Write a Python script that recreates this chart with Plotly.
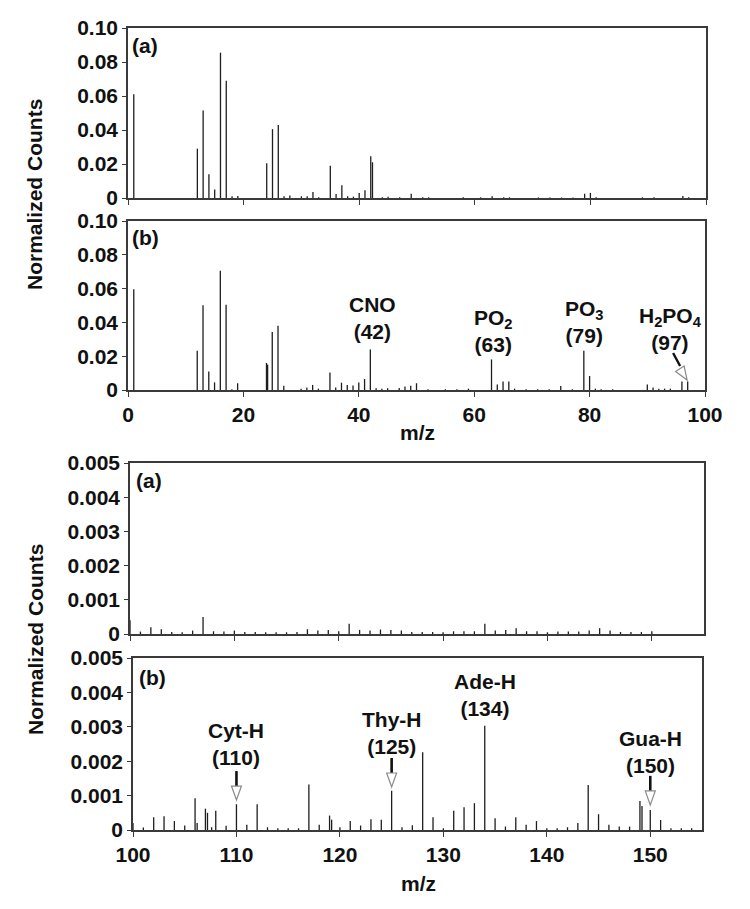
import plotly.graph_objects as go

# page body has an 8px margin: figure is sized/offset so it lands on the 750x909 window
OFF = 8
W, H = 750 - OFF, 909 - OFF

# ---------------- data ----------------
# Low-mass region (m/z 0-100)
low_a_mz = [1, 12, 13, 14, 15, 16, 17, 18, 19, 24, 25, 26, 27, 28, 30, 31, 32, 33, 35, 36,
            37, 38, 39, 40, 41, 42, 42.3, 44, 45, 47, 49, 51, 52, 58, 61, 63, 65, 66, 71, 73,
            75, 77, 79, 80, 81, 89, 91, 96, 97]
low_a_val = [0.061, 0.029, 0.0515, 0.014, 0.005, 0.0855, 0.069, 0.001, 0.0012, 0.0205, 0.0405,
             0.043, 0.001, 0.0015, 0.001, 0.001, 0.0035, 0.0005, 0.019, 0.0023, 0.0075, 0.001,
             0.0008, 0.003, 0.0045, 0.0245, 0.021, 0.0005, 0.0008, 0.0004, 0.0025, 0.0005,
             0.0004, 0.0004, 0.0004, 0.001, 0.0005, 0.0004, 0.0003, 0.0003, 0.0003, 0.0003,
             0.0025, 0.003, 0.0005, 0.0004, 0.0005, 0.0012, 0.0005]

low_b_mz = [1, 12, 13, 14, 15, 16, 17, 18, 19, 24, 24.2, 25, 26, 27, 30, 31, 32, 33, 35, 36,
            37, 38, 39, 40, 41, 42, 43, 44, 45, 47, 48, 49, 50, 52, 55, 57, 59, 63, 64, 65,
            66, 67, 69, 71, 73, 75, 77, 79, 80, 81, 82, 84, 90, 91, 92, 93, 94, 96, 97]
low_b_val = [0.0596, 0.0232, 0.0502, 0.011, 0.0045, 0.0705, 0.0504, 0.0005, 0.004, 0.016,
             0.015, 0.0343, 0.038, 0.0025, 0.0008, 0.0015, 0.003, 0.0008, 0.0104, 0.0015,
             0.0043, 0.003, 0.0027, 0.0045, 0.0065, 0.024, 0.001, 0.0008, 0.001, 0.0012,
             0.002, 0.0025, 0.004, 0.0005, 0.0005, 0.0005, 0.0008, 0.0181, 0.0033, 0.005,
             0.005, 0.0008, 0.0005, 0.0005, 0.0005, 0.0024, 0.0005, 0.0232, 0.0083, 0.0008,
             0.0005, 0.0004, 0.0033, 0.0015, 0.0008, 0.0008, 0.0008, 0.005, 0.005]

# High-mass region (m/z 100-155)
high_a_mz = [100, 101, 102, 103, 104, 105, 106, 107, 108, 109, 110, 111, 112, 113, 114, 115,
             116, 117, 118, 119, 120, 121, 122, 123, 124, 125, 126, 127, 128, 129, 130, 131,
             132, 133, 134, 135, 136, 137, 138, 139, 140, 141, 142, 143, 144, 145, 146, 147,
             148, 149, 150]
high_a_val = [0.0004, 0.00007, 0.0002, 0.00014, 0.00006, 0.00005, 0.0001, 0.0005, 0.00008,
              0.00007, 0.0001, 0.00006, 0.00006, 0.00005, 0.00005, 0.00005, 0.00006, 0.00014,
              0.0001, 0.00012, 0.00008, 0.0003, 0.00012, 0.0001, 0.00013, 0.00012, 0.0001,
              0.00006, 0.00006, 0.00006, 0.00005, 0.00008, 0.00008, 0.00008, 0.0003, 0.0001,
              0.00012, 0.00017, 0.00008, 0.00008, 0.00005, 0.00007, 0.00007, 0.00007, 0.0001,
              0.00017, 0.0001, 0.00006, 0.00006, 0.00006, 0.00008]

high_b_mz = [100, 101, 102, 103, 104, 105, 106, 106.2, 107, 107.2, 107.6, 108, 109, 110, 111,
             112, 113, 114, 115, 116, 117, 118, 119, 119.2, 120, 121, 122, 123, 124, 125, 126,
             127, 128, 129, 130, 131, 132, 133, 134, 135, 136, 137, 138, 139, 140, 141, 142,
             143, 144, 145, 146, 147, 148, 149, 149.2, 150, 151, 152, 153, 154]
high_b_val = [0.0002, 0.00007, 0.00037, 0.0004, 0.00026, 0.00013, 0.00092, 0.0002, 0.00062,
              0.0005, 0.00008, 0.00056, 0.00012, 0.00075, 0.00015, 0.00075, 0.00008, 0.00005,
              0.00005, 0.00005, 0.00132, 0.00015, 0.00042, 0.0003, 0.00008, 0.00026, 0.00013,
              0.00031, 0.0003, 0.00114, 0.00008, 0.00014, 0.00226, 0.00037, 0.00005, 0.00056,
              0.00066, 0.00078, 0.00303, 0.00034, 0.0001, 0.00037, 0.00015, 0.00026, 0.00005,
              0.00005, 0.00008, 0.0002, 0.00131, 0.00046, 0.00015, 0.0001, 0.0001, 0.00084,
              0.0007, 0.00058, 0.00029, 0.00005, 0.00005, 0.00005]

low_x_ticks = [0, 20, 40, 60, 80, 100]
high_x_ticks = [100, 110, 120, 130, 140, 150]
low_y_ticks = [0, 0.02, 0.04, 0.06, 0.08, 0.10]
low_y_labels = ["0", "0.02", "0.04", "0.06", "0.08", "0.10"]
high_y_ticks = [0, 0.001, 0.002, 0.003, 0.004, 0.005]
high_y_labels = ["0", "0.001", "0.002", "0.003", "0.004", "0.005"]

# peak labels: (text, label x, label y)
low_labels = [("CNO<br>(42)", 42.4, 0.0429),
              ("PO<sub>2</sub><br>(63)", 63.3, 0.0349),
              ("PO<sub>3</sub><br>(79)", 79.2, 0.0400),
              ("H<sub>2</sub>PO<sub>4</sub><br>(97)", 94.0, 0.0361)]
high_labels = [("Cyt-H<br>(110)", 110, 0.00250),
               ("Thy-H<br>(125)", 125, 0.00282),
               ("Ade-H<br>(134)", 134, 0.00392),
               ("Gua-H<br>(150)", 150, 0.00228)]
# hollow arrows pointing at peaks (m/z, tip height)
high_arrows = [(110, 0.00087), (125, 0.00125), (150, 0.00073)]
low_arrow = (96.9, 0.0059)

# ---------------- layout helpers (window pixel -> paper fraction) ----------------
def fx(px):
    return (px - OFF) / W

def fy(py):
    return 1 - (py - OFF) / H

panels = [  # (x-left, x-right, y-top, y-bottom) in window px
    (128, 706, 28, 198),
    (128, 705, 221, 390),
    (130, 704, 463, 634),
    (133, 702, 658, 830),
]

FONT = "Liberation Sans, Arial, sans-serif"
INK = "#1e1e1e"
AX = "#3a3a3a"


def sticks(mz, val):
    xs, ys = [], []
    for m, v in zip(mz, val):
        xs += [m, m, None]
        ys += [0, v, None]
    return xs, ys


fig = go.Figure()
series = [(low_a_mz, low_a_val), (low_b_mz, low_b_val),
          (high_a_mz, high_a_val), (high_b_mz, high_b_val)]
for i, (mz, val) in enumerate(series):
    xs, ys = sticks(mz, val)
    fig.add_trace(go.Scatter(x=xs, y=ys, mode="lines", line=dict(color=INK, width=1.3),
                             xaxis=f"x{i+1}" if i else "x", yaxis=f"y{i+1}" if i else "y",
                             hoverinfo="skip", showlegend=False))

layout = dict(width=W, height=H, margin=dict(l=0, r=0, t=0, b=0, pad=0, autoexpand=False),
              paper_bgcolor="white", plot_bgcolor="white", showlegend=False,
              font=dict(family=FONT, color="#111", size=21, weight="bold"))

for i, (xl, xr, yt, yb) in enumerate(panels):
    xk = "xaxis" if i == 0 else f"xaxis{i+1}"
    yk = "yaxis" if i == 0 else f"yaxis{i+1}"
    low = i < 2
    layout[xk] = dict(domain=[fx(xl), fx(xr)], anchor="y" if i == 0 else f"y{i+1}",
                      range=[0, 100] if low else [100, 155],
                      tickvals=low_x_ticks if low else high_x_ticks,
                      showticklabels=(i in (1, 3)), ticks="outside", ticklen=5,
                      tickwidth=1.3, tickcolor=AX, showline=True, linecolor=AX, linewidth=1.6,
                      mirror=True, showgrid=False, zeroline=False, automargin=False,
                      tickfont=dict(size=21, family=FONT, color="#111", weight="bold"))
    layout[yk] = dict(domain=[fy(yb), fy(yt)], anchor="x" if i == 0 else f"x{i+1}",
                      range=[0, 0.1] if low else [0, 0.005],
                      tickvals=low_y_ticks if low else high_y_ticks,
                      ticktext=low_y_labels if low else high_y_labels,
                      ticks="outside", ticklen=4, tickwidth=1.3, tickcolor=AX,
                      showline=True, linecolor=AX, linewidth=1.6, mirror=True,
                      showgrid=False, zeroline=False, automargin=False,
                      tickfont=dict(size=21, family=FONT, color="#111", weight="bold"))

fig.update_layout(**layout)

ann = []
# panel letters
for (txt, px, py) in [("(a)", 130, 45), ("(b)", 130, 237), ("(a)", 134, 480), ("(b)", 137, 677)]:
    ann.append(dict(text=txt, x=fx(px), y=fy(py), xref="paper", yref="paper",
                    xanchor="left", yanchor="middle", showarrow=False,
                    font=dict(size=21, family=FONT, color="#111", weight="bold")))
# axis titles
for (txt, px, py, ang) in [("Normalized Counts", 35, 195, -90), ("Normalized Counts", 35, 640, -90),
                           ("m/z", 417, 432, 0), ("m/z", 418, 883, 0)]:
    ann.append(dict(text=txt, x=fx(px), y=fy(py), xref="paper", yref="paper",
                    xanchor="center", yanchor="middle", showarrow=False, textangle=ang,
                    font=dict(size=21, family=FONT, color="#111", weight="bold")))
# peak labels
for (txt, x, y) in low_labels:
    ann.append(dict(text=txt, x=x, y=y, xref="x2", yref="y2", showarrow=False,
                    xanchor="center", yanchor="middle",
                    font=dict(size=21, family=FONT, color="#111", weight="bold")))
for (txt, x, y) in high_labels:
    ann.append(dict(text=txt, x=x, y=y, xref="x4", yref="y4", showarrow=False,
                    xanchor="center", yanchor="middle",
                    font=dict(size=21, family=FONT, color="#111", weight="bold")))
fig.update_layout(annotations=ann)

shapes = []
for (m, tip) in high_arrows:
    shapes.append(dict(type="path", xref="x4", yref="y4", xsizemode="pixel", ysizemode="pixel",
                       xanchor=m, yanchor=tip, path="M 0 14 L 0 29",
                       line=dict(color="#111", width=2.6)))
    shapes.append(dict(type="path", xref="x4", yref="y4", xsizemode="pixel", ysizemode="pixel",
                       xanchor=m, yanchor=tip, path="M -5 14 L 5 14 L 0 0 Z",
                       fillcolor="white", line=dict(color="#8a8a8a", width=1.2)))
m, tip = low_arrow
shapes.append(dict(type="path", xref="x2", yref="y2", xsizemode="pixel", ysizemode="pixel",
                   xanchor=m, yanchor=tip, path="M -14 27 L -7 14",
                   line=dict(color="#111", width=2.4)))
shapes.append(dict(type="path", xref="x2", yref="y2", xsizemode="pixel", ysizemode="pixel",
                   xanchor=m, yanchor=tip, path="M -3 14 L -11.5 8.5 L 0 0 Z",
                   fillcolor="white", line=dict(color="#8a8a8a", width=1.2)))
fig.update_layout(shapes=shapes)

fig.write_html("out.html")
